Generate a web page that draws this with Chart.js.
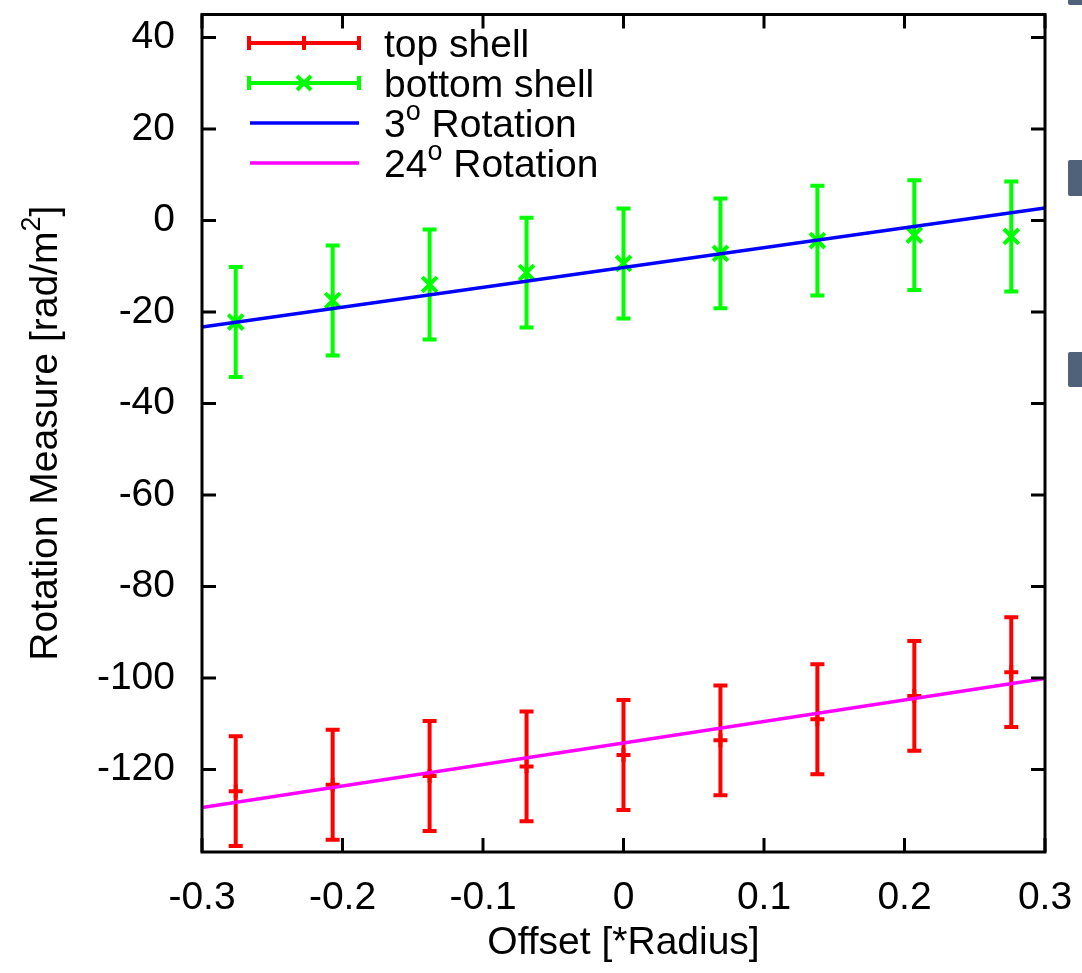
<!DOCTYPE html>
<html>
<head>
<meta charset="utf-8">
<script src="https://cdn.jsdelivr.net/npm/chart.js@4"></script>
<style>
  body { margin: 0; background: #fff; }
  #wrap { position: relative; width: 1082px; height: 973px; }
  .tab { position: absolute; left: 1068px; width: 16px; background: #4f627a; border-radius: 2px; }
</style>
</head>
<body>
<div id="wrap">
  <canvas id="rm"></canvas>
  <div class="tab" style="top:-4px;height:9px"></div>
  <div class="tab" style="top:160px;height:36px"></div>
  <div class="tab" style="top:352px;height:35px"></div>
</div>
<script>
// offsets along the cut, in units of the radius
const offsets = [-0.276, -0.207, -0.138, -0.069, 0, 0.069, 0.138, 0.207, 0.276];
const topShell = [-124.7, -123.3, -121.4, -119.3, -116.8, -113.6, -109.0, -103.9, -98.7];
const topErr = [12, 12, 12, 12, 12, 12, 12, 12, 12];
const bottomShell = [-22.2, -17.5, -14.0, -11.4, -9.4, -7.2, -4.4, -3.2, -3.5];
const bottomErr = [12, 12, 12, 12, 12, 12, 12, 12, 12];

// model curves, evaluated at the ends of the range
const modelX = [-0.3, 0.3];
const rot3 = [-23.3, 2.7];
const rot24 = [-128.3, -100.1];

const xTicks = [-0.3, -0.2, -0.1, 0, 0.1, 0.2, 0.3];
const yTicks = [-120, -100, -80, -60, -40, -20, 0, 20, 40];

const FONT = '"Liberation Sans", Arial, Helvetica, sans-serif';
const FS = 39;
const RED = '#ff0000', GREEN = '#00ff00', BLUE = '#0000ff', MAGENTA = '#ff00ff';

const pts = (xs, ys) => xs.map((x, i) => ({ x: x, y: ys[i] }));

function drawErrBar(ctx, px, hi, lo, half) {
  ctx.beginPath();
  ctx.moveTo(px, hi); ctx.lineTo(px, lo);
  ctx.moveTo(px - half, hi); ctx.lineTo(px + half, hi);
  ctx.moveTo(px - half, lo); ctx.lineTo(px + half, lo);
  ctx.stroke();
}

const errorBars = {
  id: 'errorBars',
  beforeDatasetsDraw(chart) {
    const { ctx, scales: { x, y } } = chart;
    chart.data.datasets.forEach(ds => {
      if (!ds.yErr) return;
      ctx.save();
      ctx.strokeStyle = ds.borderColor;
      ctx.lineWidth = 4;
      ds.data.forEach((p, i) => {
        const px = x.getPixelForValue(p.x);
        drawErrBar(ctx, px, y.getPixelForValue(p.y + ds.yErr[i]), y.getPixelForValue(p.y - ds.yErr[i]), 7);
      });
      ctx.restore();
    });
  }
};

// gnuplot style border with inward ticks on all four sides
const frame = {
  id: 'frame',
  afterDatasetsDraw(chart) {
    const { ctx, chartArea: a, scales: { x, y } } = chart;
    ctx.save();
    ctx.strokeStyle = '#000';
    ctx.lineWidth = 3;
    ctx.beginPath();
    xTicks.forEach(v => {
      const px = x.getPixelForValue(v);
      ctx.moveTo(px, a.bottom); ctx.lineTo(px, a.bottom - 14);
      ctx.moveTo(px, a.top); ctx.lineTo(px, a.top + 14);
    });
    yTicks.forEach(v => {
      const py = y.getPixelForValue(v);
      ctx.moveTo(a.left, py); ctx.lineTo(a.left + 14, py);
      ctx.moveTo(a.right, py); ctx.lineTo(a.right - 14, py);
    });
    ctx.stroke();
    ctx.strokeRect(a.left, a.top, a.right - a.left, a.bottom - a.top);
    ctx.restore();
  }
};

// text with a raised small part, e.g. degrees or m^2
function supText(ctx, parts, x, y, align) {
  const big = FS + 'px ' + FONT, small = '27px ' + FONT;
  let w = 0;
  parts.forEach(p => { ctx.font = p.sup ? small : big; w += ctx.measureText(p.t).width; });
  let cx = align === 'center' ? x - w / 2 : x;
  ctx.textAlign = 'left';
  ctx.textBaseline = 'alphabetic';
  parts.forEach(p => {
    ctx.font = p.sup ? small : big;
    ctx.fillText(p.t, cx, p.sup ? y - 17 : y);
    cx += ctx.measureText(p.t).width;
  });
}

const labels = {
  id: 'labels',
  afterDraw(chart) {
    const { ctx, chartArea: a } = chart;
    ctx.save();
    ctx.fillStyle = '#000';

    // axis titles
    ctx.font = FS + 'px ' + FONT;
    ctx.textAlign = 'center';
    ctx.textBaseline = 'alphabetic';
    ctx.fillText('Offset [*Radius]', (a.left + a.right) / 2, 954);

    ctx.save();
    ctx.translate(57, (a.top + a.bottom) / 2);
    ctx.rotate(-Math.PI / 2);
    supText(ctx, [{ t: 'Rotation Measure [rad/m' }, { t: '2', sup: true }, { t: ']' }], 0, 0, 'center');
    ctx.restore();

    // key
    const x0 = 249, x1 = 359, xm = 304, tx = 384;
    const rows = [43, 83, 123, 163];
    ctx.lineWidth = 4;

    ctx.strokeStyle = RED;
    ctx.beginPath();
    ctx.moveTo(x0, rows[0]); ctx.lineTo(x1, rows[0]);
    ctx.moveTo(x0, rows[0] - 7); ctx.lineTo(x0, rows[0] + 7);
    ctx.moveTo(x1, rows[0] - 7); ctx.lineTo(x1, rows[0] + 7);
    ctx.moveTo(xm, rows[0] - 7); ctx.lineTo(xm, rows[0] + 7);
    ctx.stroke();

    ctx.strokeStyle = GREEN;
    ctx.beginPath();
    ctx.moveTo(x0, rows[1]); ctx.lineTo(x1, rows[1]);
    ctx.moveTo(x0, rows[1] - 7); ctx.lineTo(x0, rows[1] + 7);
    ctx.moveTo(x1, rows[1] - 7); ctx.lineTo(x1, rows[1] + 7);
    ctx.moveTo(xm - 7, rows[1] - 7); ctx.lineTo(xm + 7, rows[1] + 7);
    ctx.moveTo(xm - 7, rows[1] + 7); ctx.lineTo(xm + 7, rows[1] - 7);
    ctx.stroke();

    ctx.lineWidth = 3.5;
    ctx.strokeStyle = BLUE;
    ctx.beginPath(); ctx.moveTo(x0 + 1, rows[2]); ctx.lineTo(x1, rows[2]); ctx.stroke();
    ctx.strokeStyle = MAGENTA;
    ctx.beginPath(); ctx.moveTo(x0 + 1, rows[3]); ctx.lineTo(x1, rows[3]); ctx.stroke();

    ctx.font = FS + 'px ' + FONT;
    ctx.textAlign = 'left';
    ctx.textBaseline = 'alphabetic';
    ctx.fillText('top shell', tx, rows[0] + 14);
    ctx.fillText('bottom shell', tx, rows[1] + 14);
    supText(ctx, [{ t: '3' }, { t: 'o', sup: true }, { t: ' Rotation' }], tx, rows[2] + 14, 'left');
    supText(ctx, [{ t: '24' }, { t: 'o', sup: true }, { t: ' Rotation' }], tx, rows[3] + 14, 'left');
    ctx.restore();
  }
};

new Chart(document.getElementById('rm'), {
  type: 'scatter',
  data: {
    datasets: [
      {
        label: '3 Rotation',
        type: 'line',
        data: pts(modelX, rot3),
        borderColor: BLUE,
        borderWidth: 3.5,
        pointRadius: 0,
        order: 0
      },
      {
        label: '24 Rotation',
        type: 'line',
        data: pts(modelX, rot24),
        borderColor: MAGENTA,
        borderWidth: 3.5,
        pointRadius: 0,
        order: 0
      },
      {
        label: 'top shell',
        data: pts(offsets, topShell),
        yErr: topErr,
        borderColor: RED,
        backgroundColor: RED,
        pointStyle: 'cross',
        pointRadius: 7,
        pointBorderWidth: 4,
        order: 1
      },
      {
        label: 'bottom shell',
        data: pts(offsets, bottomShell),
        yErr: bottomErr,
        borderColor: GREEN,
        backgroundColor: GREEN,
        pointStyle: 'crossRot',
        pointRadius: 10.5,
        pointBorderWidth: 4,
        order: 1
      }
    ]
  },
  options: {
    responsive: true,
    maintainAspectRatio: false,
    animation: false,
    layout: { padding: { top: 10, right: 37, left: 0, bottom: 0 } },
    plugins: {
      legend: { display: false },
      tooltip: { enabled: false }
    },
    scales: {
      x: {
        type: 'linear',
        min: -0.3,
        max: 0.3,
        grid: { display: false, drawTicks: false },
        border: { display: false },
        ticks: {
          color: '#000',
          font: { family: FONT, size: FS },
          padding: 23,
          maxRotation: 0,
          autoSkip: false,
          callback: v => String(v)
        },
        afterBuildTicks: s => { s.ticks = xTicks.map(v => ({ value: v })); },
        afterFit: s => { s.height = 121; s.paddingLeft = 0; s.paddingRight = 0; }
      },
      y: {
        type: 'linear',
        min: -138,
        max: 45,
        grid: { display: false, drawTicks: false },
        border: { display: false },
        ticks: {
          color: '#000',
          font: { family: FONT, size: FS },
          padding: 27,
          autoSkip: false,
          callback: v => String(v)
        },
        afterBuildTicks: s => { s.ticks = yTicks.map(v => ({ value: v })); },
        afterFit: s => { s.width = 202; s.paddingTop = 0; s.paddingBottom = 0; }
      }
    }
  },
  plugins: [errorBars, frame, labels]
});
</script>
</body>
</html>
